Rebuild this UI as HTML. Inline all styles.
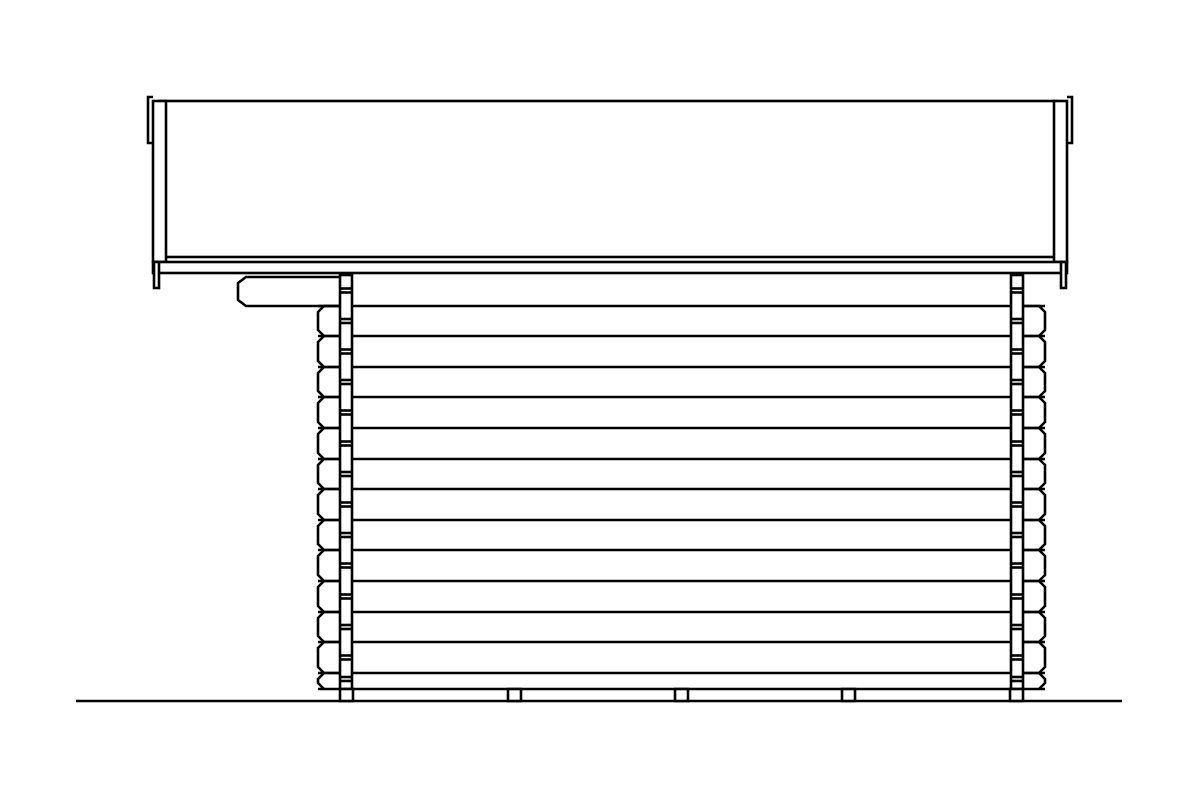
<!DOCTYPE html>
<html><head><meta charset="utf-8"><style>html,body{margin:0;padding:0;background:#fff}svg{display:block}</style></head>
<body>
<svg id="s" width="1200" height="800" viewBox="0 0 1200 800" xmlns="http://www.w3.org/2000/svg" fill="none" stroke="#000" stroke-width="2.6">
<!-- roof -->
<rect x="160" y="101" width="896" height="156"/>
<rect x="153" y="101" width="13" height="161" fill="#fff"/>
<rect x="1054" y="101" width="13" height="161" fill="#fff"/>
<path d="M153 97 H148 V143 H153"/>
<path d="M1067 97 H1072 V143 H1067"/>
<rect x="153" y="262" width="914" height="11" fill="#fff"/>
<rect x="154" y="262" width="5" height="26" fill="#fff"/>
<rect x="1061" y="262" width="5" height="26" fill="#fff"/>
<!-- top-left extra log -->
<path d="M340 277 H246 L238 283 V300 L246 306 H340"/>
<!-- ground -->
<line x1="76" y1="701" x2="1122" y2="701"/>
<g id="g"></g>
</svg>
<script>
var g=document.getElementById('g'),h='';
var ys=[275];for(var i=1;i<=13;i++)ys.push(Math.round(275+i*30.6));ys.push(689);
for(var i=1;i<ys.length;i++){h+='<line x1="318" y1="'+ys[i]+'" x2="1045" y2="'+ys[i]+'"/>';}
for(var i=1;i<ys.length-1;i++){var t=ys[i],b=ys[i+1];
h+='<path d="M340 '+t+' H324 L318 '+(t+6)+' V'+(b-6)+' L324 '+b+'"/>';
h+='<path d="M1012 '+t+' H1039 L1045 '+(t+6)+' V'+(b-6)+' L1039 '+b+'"/>';}
[[340,352],[1011,1023]].forEach(function(p){
h+='<rect x="'+p[0]+'" y="275" width="'+(p[1]-p[0])+'" height="414" fill="#fff"/>';
for(var i=0;i<ys.length-1;i++){var m=(ys[i]+ys[i+1])/2;if(i==ys.length-2)m=ys[i]+6;
h+='<line x1="'+p[0]+'" y1="'+(m-2)+'" x2="'+p[1]+'" y2="'+(m-2)+'"/><line x1="'+p[0]+'" y1="'+(m+2)+'" x2="'+p[1]+'" y2="'+(m+2)+'"/>';}
});
[340,508,675,842,1010].forEach(function(x){h+='<rect x="'+x+'" y="689" width="13" height="12" fill="#fff"/>';});
g.innerHTML=h;
</script>
</body></html>
